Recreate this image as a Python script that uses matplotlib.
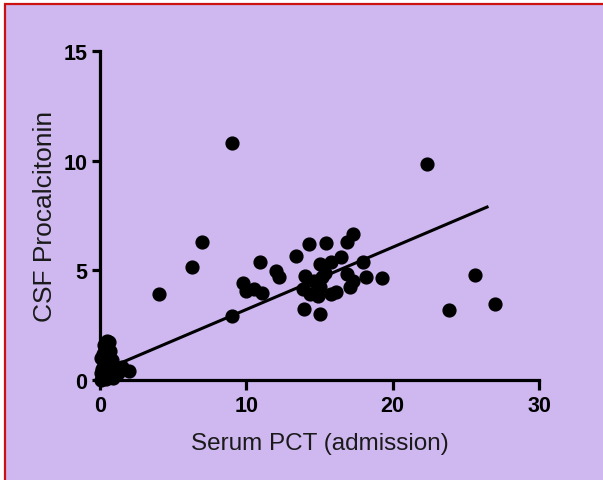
import matplotlib
matplotlib.use('Agg')
import matplotlib.pyplot as plt
from matplotlib.patches import Rectangle
import numpy as np

# DATA
serum_pct = [
    # cluster near the origin
    0.1, 0.2, 0.3, 0.15, 0.4, 0.5, 0.3, 0.2, 0.7, 0.8,
    1.0, 1.5, 1.2, 2.0, 0.6, 0.05, 0.4, 0.9, 0.25, 0.1,
    0.6, 0.35,
    # main cloud
    9.0, 22.35, 7.0, 6.3, 4.0, 9.0,
    9.8, 10.0, 10.5, 11.1, 10.9, 12.0, 12.2,
    13.4, 14.3, 15.45, 16.9, 17.3, 16.5, 15.8, 15.0,
    14.0, 15.15, 18.0, 16.9, 17.3, 17.1, 18.2, 19.3,
    13.9, 14.35, 14.9, 15.8, 16.1, 15.0, 15.4, 14.6,
    13.94, 15.0, 25.6, 23.85, 27.0,
]
csf_pct = [
    0.0, 0.1, 0.3, 0.5, 0.8, 1.8, 1.6, 1.2, 1.3, 0.9,
    0.6, 0.6, 0.3, 0.4, 0.2, 0.3, 0.05, 0.1, 0.7, 1.0,
    1.75, 1.45,
    10.8, 9.85, 6.3, 5.15, 3.9, 2.9,
    4.4, 4.05, 4.15, 3.97, 5.37, 4.95, 4.7,
    5.67, 6.2, 6.25, 6.3, 6.66, 5.6, 5.36, 5.29,
    4.76, 4.68, 5.4, 4.83, 4.53, 4.22, 4.68, 4.63,
    4.15, 3.92, 3.84, 3.92, 4.0, 4.22, 4.9, 4.5,
    3.24, 3.0, 4.79, 3.2, 3.47,
]
fit_slope = 0.284
fit_intercept = 0.374
fit_x_range = [1.5, 26.45]

x_ticks = [0, 10, 20, 30]
y_ticks = [0, 5, 10, 15]

BG = '#cfb8f0'
RED = '#cc1111'

plt.rcParams['font.family'] = ['Liberation Sans', 'DejaVu Sans']

fig = plt.figure(figsize=(6.03, 4.81), dpi=100)
fig.patch.set_facecolor('white')
fig.patches.append(Rectangle((5 / 603, -0.05), 1.1, 1 - 5 / 481 + 0.05,
                             transform=fig.transFigure, facecolor=BG,
                             edgecolor=RED, linewidth=1.6, zorder=-10))

ax = fig.add_axes([100 / 603, 100 / 481, 439 / 603, 329 / 481])
ax.set_facecolor('none')
ax.set_zorder(5)

ax.scatter(serum_pct, csf_pct, s=85, color='black', zorder=3, clip_on=False)
fx = np.array(fit_x_range)
ax.plot(fx, fit_intercept + fit_slope * fx, color='black', lw=2.2, zorder=2)

ax.set_xlim(0, 30)
ax.set_ylim(0, 15)
ax.set_xticks(x_ticks)
ax.set_yticks(y_ticks)

for s in ['top', 'right']:
    ax.spines[s].set_visible(False)
for s in ['left', 'bottom']:
    ax.spines[s].set_linewidth(2.3)
ax.tick_params(axis='x', length=7, width=2.3, pad=4, labelsize=15.5)
ax.tick_params(axis='y', length=6, width=2.3, pad=3, labelsize=15.5)
for lbl in ax.get_xticklabels() + ax.get_yticklabels():
    lbl.set_fontweight('bold')

ax.set_xlabel('Serum PCT (admission)', fontsize=17.5, color='#1a1a1a', labelpad=11)
ax.set_ylabel('CSF Procalcitonin', fontsize=19, color='#1a1a1a', labelpad=5)

plt.savefig('out.png', dpi=100, facecolor='white')
